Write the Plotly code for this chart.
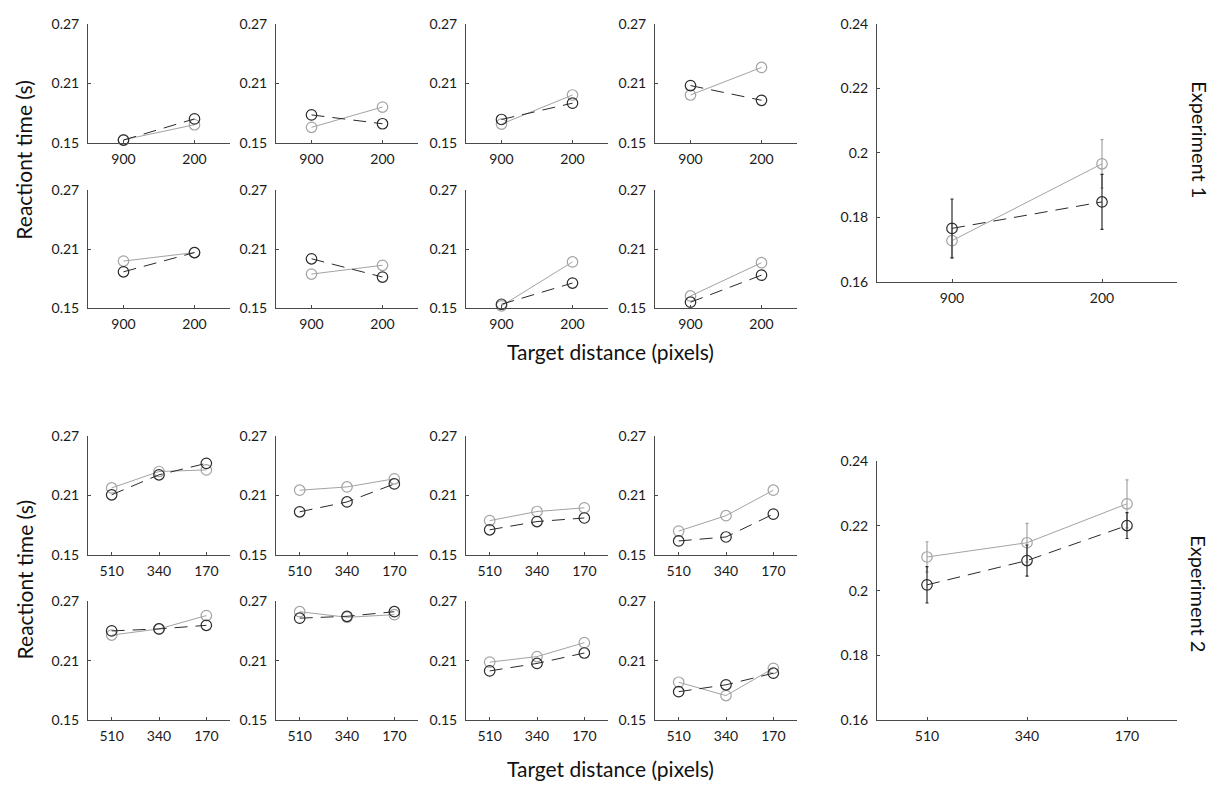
import plotly.graph_objects as go

W, H = 1225, 789

# ---------------- data ----------------
exp1_labels = ["900", "200"]
exp2_labels = ["510", "340", "170"]

# Experiment 1, eight individual panels (row-major), values at 900 / 200
exp1_gray = [
    [0.1533, 0.1684], [0.1658, 0.1862], [0.1691, 0.1983], [0.1983, 0.2260],
    [0.1980, 0.2066], [0.1848, 0.1937], [0.1526, 0.1971], [0.1626, 0.1963],
]
exp1_black = [
    [0.1530, 0.1743], [0.1783, 0.1694], [0.1737, 0.1901], [0.2078, 0.1930],
    [0.1871, 0.2066], [0.2003, 0.1818], [0.1542, 0.1757], [0.1563, 0.1837],
]
# Experiment 1 mean panel
exp1_mean_gray = [0.1728, 0.1966]
exp1_mean_gray_err = [0.0053, 0.0075]
exp1_mean_black = [0.1766, 0.1848]
exp1_mean_black_err = [0.0091, 0.0085]

# Experiment 2, eight individual panels, values at 510 / 340 / 170
exp2_gray = [
    [0.2174, 0.2339, 0.2355], [0.2151, 0.2184, 0.2266],
    [0.1845, 0.1937, 0.1974], [0.1740, 0.1895, 0.2151],
    [0.2357, 0.2419, 0.2553], [0.2592, 0.2536, 0.2562],
    [0.2085, 0.2141, 0.2281], [0.1883, 0.1749, 0.2023],
]
exp2_black = [
    [0.2105, 0.2306, 0.2421], [0.1934, 0.2033, 0.2214],
    [0.1753, 0.1836, 0.1872], [0.1641, 0.1681, 0.1911],
    [0.2399, 0.2419, 0.2455], [0.2527, 0.2546, 0.2592],
    [0.1997, 0.2072, 0.2177], [0.1788, 0.1857, 0.1974],
]
exp2_mean_gray = [0.2104, 0.2148, 0.2268]
exp2_mean_gray_err = [0.0047, 0.0060, 0.0074]
exp2_mean_black = [0.2018, 0.2093, 0.2201]
exp2_mean_black_err = [0.0056, 0.0048, 0.0040]

small_yticks = [0.15, 0.21, 0.27]
small_yticktext = ["0.15", "0.21", "0.27"]
big_yticks = [0.16, 0.18, 0.20, 0.22, 0.24]
big_yticktext = ["0.16", "0.18", "0.2", "0.22", "0.24"]

# ---------------- layout geometry (pixels) ----------------
col_x = [(88, 230), (276, 418), (466, 608), (655, 797)]
exp1_rows = [(15, 137), (185, 306)]
exp2_rows = [(436, 558), (605, 727)]
big_x = (877, 1177)
exp1_big_y = (15, 279)
exp2_big_y = (462, 727)

GRAY = "#a3a3a3"
BLACK = "#2a2a2a"
AXC = "#4a4a4a"
FONT = "Lato"

fig = go.Figure()
layout = {}
axis_count = [0]


def add_axes(xpx, ypx, yrange, yticks, yticktext, ncat, labels):
    axis_count[0] += 1
    i = axis_count[0]
    xd = [xpx[0] / W, xpx[1] / W]
    yd = [1 - ypx[1] / H, 1 - ypx[0] / H]
    xname = "xaxis" if i == 1 else f"xaxis{i}"
    yname = "yaxis" if i == 1 else f"yaxis{i}"
    common = dict(showgrid=False, zeroline=False, showline=True, linecolor=AXC,
                  linewidth=1, ticks="inside", ticklen=3, tickcolor=AXC,
                  tickfont=dict(family=FONT, size=14, color="#1a1a1a"),
                  fixedrange=True)
    layout[xname] = dict(domain=xd, anchor=f"y{i}", range=[0.5, ncat + 0.5],
                         tickmode="array", tickvals=list(range(1, ncat + 1)),
                         ticktext=labels, ticklabelstandoff=3, **common)
    layout[yname] = dict(domain=yd, anchor=f"x{i}", range=yrange,
                         tickmode="array", tickvals=yticks, ticktext=yticktext,
                         ticklabelstandoff=5, **common)
    return f"x{i}", f"y{i}"


def add_pair(xa, ya, gvals, bvals, gerr=None, berr=None):
    xs = list(range(1, len(gvals) + 1))
    g = dict(x=xs, y=gvals, xaxis=xa, yaxis=ya, mode="lines+markers",
             line=dict(color=GRAY, width=1),
             marker=dict(symbol="circle-open", size=10.5, color=GRAY,
                         line=dict(width=1.2, color=GRAY)),
             cliponaxis=False, showlegend=False, hoverinfo="skip")
    if gerr is not None:
        g["error_y"] = dict(type="data", array=gerr, color=GRAY, thickness=1.2, width=1.5)
    fig.add_trace(go.Scatter(**g))
    b = dict(x=xs, y=bvals, xaxis=xa, yaxis=ya, mode="lines+markers",
             line=dict(color=BLACK, width=1, dash="13px,8px"),
             marker=dict(symbol="circle-open", size=10.5, color=BLACK,
                         line=dict(width=1.2, color=BLACK)),
             cliponaxis=False, showlegend=False, hoverinfo="skip")
    if berr is not None:
        b["error_y"] = dict(type="data", array=berr, color=BLACK, thickness=1.2, width=1.5)
    fig.add_trace(go.Scatter(**b))


# Experiment 1 small panels
for k in range(8):
    r, c = divmod(k, 4)
    xa, ya = add_axes(col_x[c], exp1_rows[r], [0.15, 0.27], small_yticks,
                      small_yticktext, 2, exp1_labels)
    add_pair(xa, ya, exp1_gray[k], exp1_black[k])

# Experiment 1 mean panel
xa, ya = add_axes(big_x, exp1_big_y, [0.16, 0.24], big_yticks, big_yticktext,
                  2, exp1_labels)
add_pair(xa, ya, exp1_mean_gray, exp1_mean_black, exp1_mean_gray_err, exp1_mean_black_err)

# Experiment 2 small panels
for k in range(8):
    r, c = divmod(k, 4)
    xa, ya = add_axes(col_x[c], exp2_rows[r], [0.15, 0.27], small_yticks,
                      small_yticktext, 3, exp2_labels)
    add_pair(xa, ya, exp2_gray[k], exp2_black[k])

# Experiment 2 mean panel
xa, ya = add_axes(big_x, exp2_big_y, [0.16, 0.24], big_yticks, big_yticktext,
                  3, exp2_labels)
add_pair(xa, ya, exp2_mean_gray, exp2_mean_black, exp2_mean_gray_err, exp2_mean_black_err)


def ann(text, px, py, angle=0, size=21):
    return dict(text=text, x=px / W, y=1 - py / H, xref="paper", yref="paper",
                xanchor="center", yanchor="middle", showarrow=False,
                textangle=angle, font=dict(family=FONT, size=size, color="#111111"))


annotations = [
    ann("Reactiont time (s)", 24, 155, -90),
    ann("Reactiont time (s)", 24, 584, -90),
    ann("Target distance (pixels)", 610, 350),
    ann("Target distance (pixels)", 610, 776),
    ann("Experiment 1", 1200, 133, 90, 20),
    ann("Experiment 2", 1199, 597, 90, 20),
]

fig.update_layout(width=W, height=H, margin=dict(l=0, r=0, t=0, b=0),
                  paper_bgcolor="white", plot_bgcolor="white",
                  annotations=annotations, **layout)

fig.write_html("out.html", config={"displayModeBar": False},
               post_script="document.body.style.margin='0px';document.body.style.overflow='hidden';")
